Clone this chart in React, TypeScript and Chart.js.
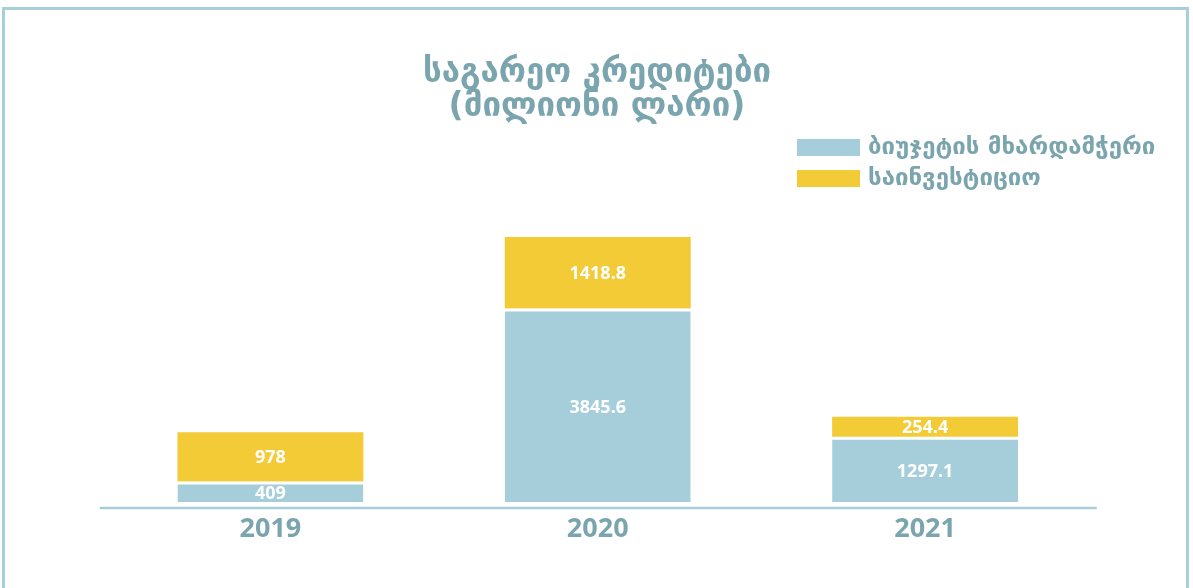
import React, { useEffect, useRef } from "react";
import { Chart, registerables } from "chart.js";

Chart.register(...registerables);

const categories = ["2019", "2020", "2021"];
const budgetSupport = [409, 3845.6, 1297.1];
const investment = [978, 1418.8, 254.4];
const seriesLabels = ["ბიუჯეტის მხარდამჭერი", "საინვესტიციო"];
const titleLines = ["საგარეო კრედიტები", "(მილიონი ლარი)"];

const BLUE = "#a6ceda";
const YELLOW = "#f2cb37";
const TEXT = "#7aa5ae";
const FRAME = "#a7cfdb";

const CANVAS_W = 1181;
const CANVAS_H = 578;

export default function App() {
  const ref = useRef<HTMLCanvasElement>(null);

  useEffect(() => {
    document.body.style.margin = "0";
    document.body.style.overflow = "hidden";
    const canvas = ref.current;
    if (!canvas) return;

    const overlay = {
      id: "overlay",
      afterDatasetsDraw(chart: any) {
        const ctx = chart.ctx;
        ctx.save();
        ctx.fillStyle = "#ffffff";
        ctx.font = 'bold 18px "Noto Sans"';
        ctx.textAlign = "center";
        ctx.textBaseline = "middle";
        chart.data.datasets.forEach((ds: any, di: number) => {
          const meta = chart.getDatasetMeta(di);
          meta.data.forEach((el: any, i: number) => {
            const p = el.getProps(["x", "y", "base"], true);
            const cy = (p.y + p.base) / 2 + (di === 0 ? 1.5 : 0);
            ctx.fillText(String(ds.data[i]), p.x, cy + 1);
          });
        });
        ctx.restore();
      },
      afterDraw(chart: any) {
        const ctx = chart.ctx;
        ctx.save();
        const area = chart.chartArea;
        ctx.strokeStyle = FRAME;
        ctx.lineWidth = 2.5;
        ctx.beginPath();
        ctx.moveTo(area.left - 7, area.bottom + 6);
        ctx.lineTo(area.right + 8, area.bottom + 6);
        ctx.stroke();

        ctx.fillStyle = TEXT;
        ctx.textAlign = "center";
        ctx.textBaseline = "middle";
        ctx.font = 'bold 33px "DejaVu Sans"';
        titleLines.forEach((t, i) => {
          ctx.fillText(t, 592, 63 + i * 34);
        });

        const colors = [BLUE, YELLOW];
        ctx.textAlign = "left";
        ctx.font = 'bold 24px "DejaVu Sans"';
        seriesLabels.forEach((label, i) => {
          const by = 129 + i * 31;
          ctx.fillStyle = colors[i];
          ctx.fillRect(792, by, 63, 17);
          ctx.fillStyle = TEXT;
          ctx.fillText(label, 863, by + 9);
        });
        ctx.restore();
      },
    };

    const chart = new Chart(canvas, {
      type: "bar",
      data: {
        labels: categories,
        datasets: [
          {
            label: seriesLabels[0],
            data: budgetSupport,
            backgroundColor: BLUE,
            borderColor: "#ffffff",
            borderWidth: { top: 3, left: 0, right: 0, bottom: 0 },
            categoryPercentage: 1,
            barPercentage: 0.568,
          },
          {
            label: seriesLabels[1],
            data: investment,
            backgroundColor: YELLOW,
            borderWidth: 0,
            minBarLength: 20,
            categoryPercentage: 1,
            barPercentage: 0.568,
          },
        ],
      },
      options: {
        responsive: false,
        animation: false,
        layout: { padding: { left: 101.75, right: 97.25, top: 190, bottom: 26 } },
        plugins: {
          legend: { display: false },
          title: { display: false },
          tooltip: { enabled: false },
        },
        scales: {
          x: {
            stacked: true,
            grid: { display: false, drawTicks: false },
            border: { display: false },
            ticks: {
              color: TEXT,
              padding: 11,
              font: { family: '"Noto Sans"', size: 27, weight: "bold" },
            },
            afterFit: (scale: any) => {
              scale.height = 60;
            },
          },
          y: {
            stacked: true,
            display: false,
            min: 0,
            max: 6000,
          },
        },
      },
      plugins: [overlay],
    } as any);

    return () => chart.destroy();
  }, []);

  return (
    <div
      style={{
        position: "fixed",
        left: 2,
        top: 7,
        width: 1187,
        height: 620,
        border: `3px solid ${FRAME}`,
        boxSizing: "border-box",
        background: "#ffffff",
      }}
    >
      <canvas
        ref={ref}
        width={CANVAS_W}
        height={CANVAS_H}
        style={{ display: "block", width: CANVAS_W, height: CANVAS_H }}
      />
    </div>
  );
}
